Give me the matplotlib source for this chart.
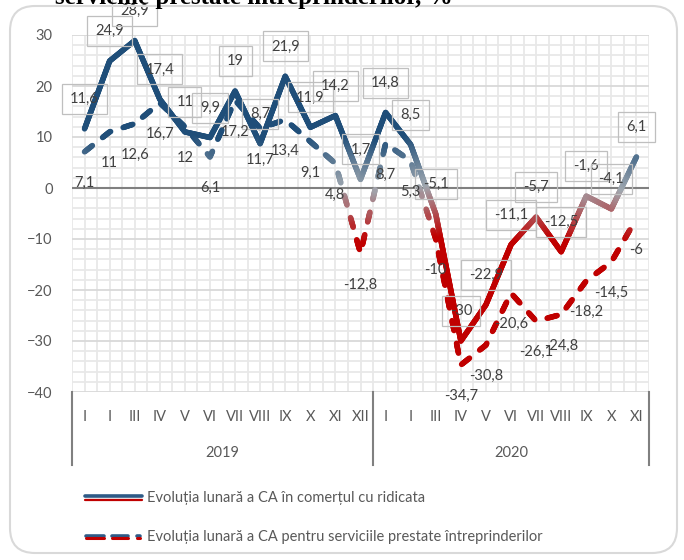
import numpy as np
import matplotlib
matplotlib.use('Agg')
import matplotlib.pyplot as plt
from matplotlib.collections import LineCollection
from matplotlib.colors import to_rgb
from matplotlib.patches import FancyBboxPatch
from matplotlib.lines import Line2D
from matplotlib.transforms import IdentityTransform, blended_transform_factory

plt.rcParams['font.family'] = ['Lato', 'DejaVu Sans']

# ---------------- data ----------------
years = ['2019', '2020']
months_2019 = ['I', 'I', 'III', 'IV', 'V', 'VI', 'VII', 'VIII', 'IX', 'X', 'XI', 'XII']
months_2020 = ['I', 'I', 'III', 'IV', 'V', 'VI', 'VII', 'VIII', 'IX', 'X', 'XI']
wholesale = [11.6, 24.9, 28.9, 17.4, 11, 9.9, 19, 8.7, 21.9, 11.9, 14.2, 1.7,
             14.8, 8.5, -5.1, -30, -22.9, -11.1, -5.7, -12.5, -1.6, -4.1, 6.1]
services = [7.1, 11, 12.6, 16.7, 12, 6.1, 17.2, 11.7, 13.4, 9.1, 4.8, -12.8,
            8.7, 5.3, -10, -34.7, -30.8, -20.6, -26.1, -24.8, -18.2, -14.5, -6]
series_names = ['Evoluția lunară a CA în comerțul cu ridicata',
                'Evoluția lunară a CA pentru serviciile prestate întreprinderilor']
title_text = 'serviciile prestate întreprinderilor, %'

W, H = 684, 560
fig = plt.figure(figsize=(W / 100, H / 100), dpi=100)

# plot area in pixels: x 72..649, y(top) 35..392
L, R, T, B = 72, 649, 35, 392
ax = fig.add_axes([L / W, 1 - B / H, (R - L) / W, (B - T) / H])
n = len(wholesale)
x = np.arange(n)
ax.set_xlim(-0.5, n - 0.5)
ax.set_ylim(-40, 30)
for s in ax.spines.values():
    s.set_visible(False)

# grid
for xv in np.arange(-0.5, n, 0.5):
    ax.axvline(xv, color='#e8e8e8', lw=1.3, zorder=0)
for yv in np.arange(-40, 31, 2):
    if yv % 10 != 0:
        ax.axhline(yv, color='#e8e8e8', lw=1.3, zorder=0)
for yv in np.arange(-40, 31, 10):
    if yv != 0:
        ax.axhline(yv, color='#d9d9d9', lw=1.3, zorder=0.5)
ax.axhline(0, color='#808080', lw=1.5, zorder=1)

ax.set_xticks([])
ax.set_yticks(np.arange(-40, 31, 10))
ax.tick_params(axis='y', length=0, pad=14, labelsize=10.5, labelcolor='#595959')


def grad_color(yv):
    stops_y = [-10, 0, 10]
    stops_c = np.array([to_rgb('#c00000'), to_rgb('#a0a8b0'), to_rgb('#1f4e79')])
    return tuple(np.interp(yv, stops_y, stops_c[:, k]) for k in range(3))


def gradient_line(xs, ys, lw, dash=None, zorder=3):
    pts = ax.transData.transform(np.column_stack([xs, ys]))
    inv = ax.transData.inverted()
    segs, cols = [], []
    s_total = 0.0
    for i in range(len(pts) - 1):
        p0, p1 = pts[i], pts[i + 1]
        seglen = np.hypot(*(p1 - p0))
        m = max(int(seglen / 1.0), 1)
        t = np.linspace(0, 1, m + 1)
        sub = p0 + np.outer(t, p1 - p0)
        for j in range(m):
            smid = s_total + seglen * (t[j] + t[j + 1]) / 2
            if dash is not None:
                on, off = dash
                if (smid % (on + off)) > on:
                    continue
            a, b = inv.transform(sub[j]), inv.transform(sub[j + 1])
            segs.append([a, b])
            cols.append(grad_color((a[1] + b[1]) / 2))
        s_total += seglen
    lc = LineCollection(segs, colors=cols, linewidths=lw, zorder=zorder)
    lc.set_capstyle('round')
    lc.set_joinstyle('round')
    ax.add_collection(lc)


gradient_line(x, wholesale, lw=4.0, zorder=3)
gradient_line(x, services, lw=4.0, dash=(10, 13), zorder=4)


def fmt(v):
    return f"{v:g}".replace('.', ',')


for i, v in enumerate(wholesale):
    ax.annotate(fmt(v), (i, v), xytext=(0, 21.5), textcoords='offset points',
                ha='center', va='center', fontsize=10.5, color='#404040', zorder=6,
                bbox=dict(boxstyle='square,pad=0.55', fc='none', ec='#bfbfbf', lw=0.9))
for i, v in enumerate(services):
    ax.annotate(fmt(v), (i, v), xytext=(0, -22.5), textcoords='offset points',
                ha='center', va='center', fontsize=10.5, color='#404040', zorder=6)

# category axis (months / years)
btr = blended_transform_factory(ax.transData, ax.transAxes)
ah = B - T
months = months_2019 + months_2020
for i, mlab in enumerate(months):
    ax.text(i, -25 / ah, mlab, transform=btr, ha='center', va='center',
            fontsize=10.5, color='#595959', clip_on=False)
ax.text((len(months_2019) - 1) / 2, -61 / ah, years[0], transform=btr, ha='center',
        va='center', fontsize=10.5, color='#595959', clip_on=False)
ax.text(len(months_2019) + (len(months_2020) - 1) / 2, -61 / ah, years[1], transform=btr,
        ha='center', va='center', fontsize=10.5, color='#595959', clip_on=False)
for xv in [-0.5, len(months_2019) - 0.5, n - 0.5]:
    ax.add_line(Line2D([xv, xv], [0, -73 / ah], transform=btr, color='#808080',
                       lw=1.5, clip_on=False))

# legend (manual)
def px(xp, yp):
    return xp / W, 1 - yp / H

y1, y2 = 498, 537
for (dy, c, lw) in [(-1.6, '#2e5a86', 2.6), (0.6, '#b0b4b8', 1.0), (1.8, '#c00000', 1.6)]:
    fig.add_artist(Line2D([85 / W, 142 / W], [1 - (y1 + dy) / H] * 2,
                          transform=fig.transFigure, color=c, lw=lw,
                          solid_capstyle='round'))
for (xa, xb) in [(86, 104), (112, 128), (137, 140)]:
    for (dy, c, lw) in [(-1.4, '#2e5a86', 2.6), (1.4, '#c00000', 2.2)]:
        fig.add_artist(Line2D([xa / W, xb / W], [1 - (y2 + dy) / H] * 2,
                              transform=fig.transFigure, color=c, lw=lw,
                              solid_capstyle='round'))
fig.text(*px(147, y1), series_names[0], ha='left', va='center', fontsize=10.5, color='#595959')
fig.text(*px(147, y2), series_names[1], ha='left', va='center', fontsize=10.5, color='#595959')

# chart border (rounded)
border = FancyBboxPatch((10, 7), 667, 547, boxstyle='round,pad=0,rounding_size=25',
                        transform=IdentityTransform(), fc='none', ec='#d9d9d9', lw=1.5)
fig.add_artist(border)

# title (cut off at top)
fig.text(55 / W, 1 - 4 / H, title_text, family=['Liberation Serif', 'DejaVu Serif'],
         weight='bold', fontsize=18, ha='left', va='baseline', color='black')

fig.savefig('out.png', dpi=100)
